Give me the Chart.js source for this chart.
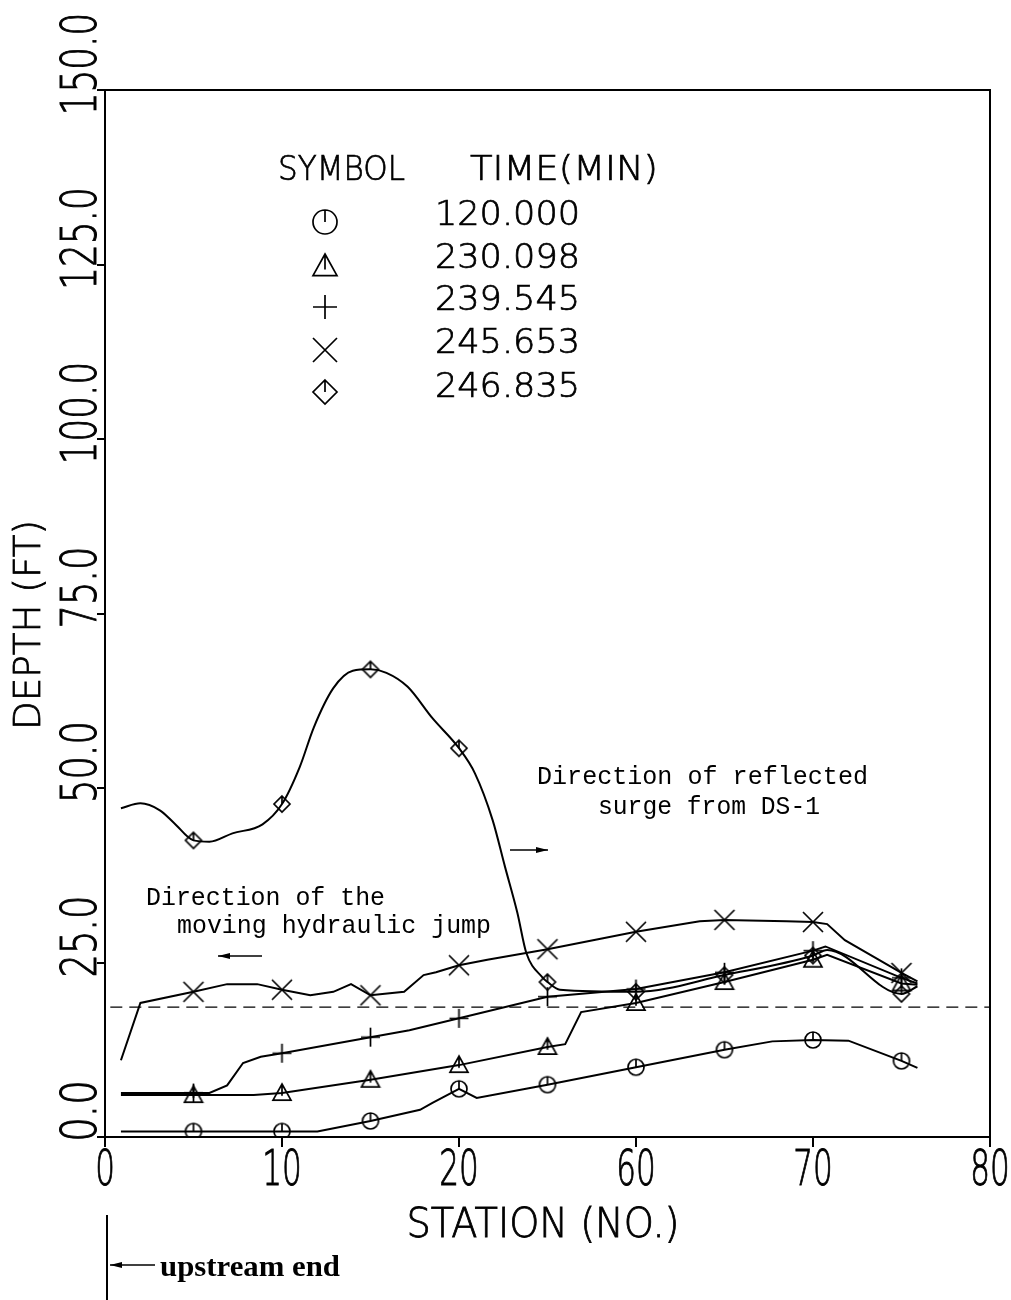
<!DOCTYPE html>
<html>
<head>
<meta charset="utf-8">
<script src="https://cdn.jsdelivr.net/npm/chart.js@4.4.1/dist/chart.umd.min.js"></script>
<style>
  html, body { margin: 0; padding: 0; background: #fff; }
  #wrap { width: 1011px; height: 1300px; }
</style>
</head>
<body>
<div id="wrap"><canvas id="chartDepth" width="1011" height="1300"></canvas></div>
<script>
// labels as printed on the plot sheet
const xTickLabels = ['0', '10', '20', '60', '70', '80'];
const yTickLabels = ['0.0', '25.0', '50.0', '75.0', '100.0', '125.0', '150.0'];
const seriesTimes = ['120.000', '230.098', '239.545', '245.653', '246.835'];
const seriesSymbols = ['circle', 'triangle', 'plus', 'cross', 'diamond'];
const markerStations = [5, 10, 15, 20, 25, 30, 35, 40, 45];
const refDepth = 18.6;
const refFrom = 0.3, refTo = 50;

// depth profiles (station, depth ft)
const t120X = [0.9, 5, 10, 12.0, 15, 17.8, 18.5, 20, 21, 25, 30, 35, 37.7, 40, 42, 45, 45.9];
const t120Y = [0.8, 0.8, 0.8, 0.8, 2.3, 3.9, 4.9, 6.9, 5.6, 7.5, 10.0, 12.5, 13.7, 13.9, 13.8, 10.9, 9.9];

const t230X = [0.9, 5, 8.4, 10, 15, 20, 25, 26.0, 26.9, 30, 35, 40, 40.8, 45, 45.9];
const t230Y = [6.0, 6.0, 6.0, 6.3, 8.2, 10.3, 12.9, 13.3, 17.9, 19.2, 22.2, 25.4, 26.1, 22.0, 21.8];

const t239X = [0.9, 5, 5.9, 6.9, 7.8, 8.8, 10, 15, 17.2, 20, 25, 30, 35, 40, 40.7, 45, 45.9];
const t239Y = [6.3, 6.3, 6.3, 7.4, 10.6, 11.5, 12.0, 14.3, 15.3, 17.0, 20.1, 21.2, 23.6, 26.7, 27.3, 22.8, 22.0];

const t245X = [0.9, 2.0, 5, 6.9, 8.6, 10, 11.6, 12.9, 13.9, 15, 16.9, 18.0, 18.7, 20, 21.6, 25, 30, 33.6, 35, 38.5, 40, 40.8, 41.8, 45, 45.9];
const t245Y = [11.0, 19.2, 20.8, 21.9, 21.9, 21.1, 20.3, 20.8, 21.9, 20.3, 20.8, 23.2, 23.6, 24.6, 25.4, 26.9, 29.4, 30.9, 31.1, 30.9, 30.8, 30.5, 28.2, 23.5, 22.3];

const t246X = [0.9, 2.0, 3.1, 3.9, 5, 5.9, 7.2, 8.9, 10, 11.0, 11.8, 12.9, 14.0, 15, 15.9, 17.1, 18.5, 20, 20.9, 21.9, 22.6, 23.3, 23.8, 24.7, 25, 25.7, 30, 35, 40, 40.8, 45, 45.9];
const t246Y = [47.1, 47.8, 46.8, 45.0, 42.5, 42.3, 43.5, 44.8, 47.7, 53.0, 58.7, 64.3, 66.8, 67.0, 66.5, 64.5, 60.0, 55.7, 52.1, 45.4, 38.7, 32.1, 26.4, 22.9, 22.2, 21.1, 20.8, 23.2, 26.0, 26.8, 20.5, 21.6];

const profilesX = [t120X, t230X, t239X, t245X, t246X];
const profilesY = [t120Y, t230Y, t239Y, t245Y, t246Y];

const PLOT_FONT = '"DejaVu Sans", sans-serif';
const TYPE_FONT = '"Liberation Mono", "Courier New", monospace';

function drawSymbol(g, type, cx, cy, r) {
    g.save();
    g.strokeStyle = '#000';
    g.lineWidth = 1.7;
    g.beginPath();
    if (type === 'circle') {
        g.arc(cx, cy, r, 0, Math.PI * 2);
        g.moveTo(cx, cy - r); g.lineTo(cx, cy);
    } else if (type === 'triangle') {
        g.moveTo(cx, cy - r); g.lineTo(cx + r, cy + 0.8 * r); g.lineTo(cx - r, cy + 0.8 * r); g.closePath();
        g.moveTo(cx, cy - r); g.lineTo(cx, cy + 0.3 * r);
    } else if (type === 'plus') {
        g.moveTo(cx - r, cy); g.lineTo(cx + r, cy);
        g.moveTo(cx, cy - r); g.lineTo(cx, cy + r);
    } else if (type === 'cross') {
        g.moveTo(cx - r, cy - r); g.lineTo(cx + r, cy + r);
        g.moveTo(cx - r, cy + r); g.lineTo(cx + r, cy - r);
    } else if (type === 'diamond') {
        g.moveTo(cx, cy - r); g.lineTo(cx + r, cy); g.lineTo(cx, cy + r); g.lineTo(cx - r, cy); g.closePath();
        g.moveTo(cx, cy - r); g.lineTo(cx, cy);
    }
    g.stroke();
    g.restore();
}

function makeMarker(type, r) {
    const c = document.createElement('canvas');
    const s = Math.ceil(r * 2 + 4);
    c.width = s; c.height = s;
    drawSymbol(c.getContext('2d'), type, s / 2, s / 2, r);
    return c;
}

const markerSize = { circle: 8, triangle: 9, plus: 9.5, cross: 10, diamond: 8 };

// plotter-style text: thin face, a light stroke thickens it a little
function plotText(ctx, s, x, y, o) {
    ctx.save();
    ctx.translate(x, y);
    if (o.rot) ctx.rotate(o.rot);
    ctx.font = o.font;
    ctx.fillStyle = '#000';
    ctx.strokeStyle = '#000';
    ctx.textAlign = o.align || 'left';
    ctx.textBaseline = 'alphabetic';
    if (o.width) {
        ctx.scale(o.width / ctx.measureText(s).width, 1);
    } else if (o.sx) {
        ctx.scale(o.sx, 1);
    }
    ctx.fillText(s, 0, 0);
    if (o.stroke) {
        ctx.lineWidth = o.stroke;
        ctx.strokeText(s, 0, 0);
    }
    ctx.restore();
}

function arrow(ctx, x1, x2, y) {
    const dir = x2 > x1 ? 1 : -1;
    ctx.save();
    ctx.strokeStyle = '#000';
    ctx.fillStyle = '#000';
    ctx.lineWidth = 1.5;
    ctx.beginPath(); ctx.moveTo(x1, y); ctx.lineTo(x2, y); ctx.stroke();
    ctx.beginPath();
    ctx.moveTo(x2, y); ctx.lineTo(x2 - dir * 12, y - 3); ctx.lineTo(x2 - dir * 12, y + 3); ctx.closePath();
    ctx.fill();
    ctx.restore();
}

const sheetText = {
    id: 'sheetText',
    afterDraw(chart) {
        const ctx = chart.ctx;
        const a = chart.chartArea;
        const xs = chart.scales.x, ys = chart.scales.y;

        // frame
        ctx.save();
        ctx.strokeStyle = '#000';
        ctx.lineWidth = 2;
        ctx.strokeRect(a.left, a.top, a.right - a.left, a.bottom - a.top);
        ctx.restore();

        // tick labels
        xTickLabels.forEach((lab, i) => {
            plotText(ctx, lab, xs.getPixelForValue(i * 10), 1185, { font: '200 50px ' + PLOT_FONT, align: 'center', sx: 0.62, stroke: 1 });
        });
        yTickLabels.forEach((lab, i) => {
            plotText(ctx, lab, 96, ys.getPixelForValue(i * 25) - 26, { font: '200 50px ' + PLOT_FONT, align: 'center', width: lab.length * 20.5, rot: -Math.PI / 2, stroke: 1 });
        });

        // axis titles
        plotText(ctx, 'DEPTH (FT)', 40, 625, { font: '200 38px ' + PLOT_FONT, align: 'center', width: 210, rot: -Math.PI / 2, stroke: 0.8 });
        plotText(ctx, 'STATION (NO.)', 543, 1237, { font: '200 40px ' + PLOT_FONT, align: 'center', width: 273, stroke: 0.8 });

        // legend block
        plotText(ctx, 'SYMBOL', 278, 180, { font: '200 33px ' + PLOT_FONT, width: 127, stroke: 0.7 });
        plotText(ctx, 'TIME(MIN)', 470, 180, { font: '200 33px ' + PLOT_FONT, width: 188, stroke: 0.7 });
        const rowBase = [225, 268, 310, 353, 397];
        const symY = [222, 266, 307, 350, 392];
        seriesTimes.forEach((t, i) => {
            plotText(ctx, t, 435, rowBase[i], { font: '200 33px ' + PLOT_FONT, width: 145, stroke: 0.7 });
            drawSymbol(ctx, seriesSymbols[i], 325, symY[i], 12);
        });

        // notes
        plotText(ctx, 'Direction of reflected', 537, 784, { font: '25px ' + TYPE_FONT, width: 331 });
        plotText(ctx, 'surge from DS-1', 598, 814, { font: '25px ' + TYPE_FONT, width: 222 });
        arrow(ctx, 510, 548, 850);
        plotText(ctx, 'Direction of the', 146, 905, { font: '25px ' + TYPE_FONT, width: 239 });
        plotText(ctx, 'moving hydraulic jump', 177, 933, { font: '25px ' + TYPE_FONT, width: 314 });
        arrow(ctx, 262, 218, 956);

        // upstream end marker
        ctx.save();
        ctx.strokeStyle = '#000';
        ctx.lineWidth = 2;
        ctx.beginPath(); ctx.moveTo(107, 1215); ctx.lineTo(107, 1300); ctx.stroke();
        ctx.restore();
        arrow(ctx, 155, 110, 1265);
        plotText(ctx, 'upstream end', 160, 1276, { font: 'bold 30px "Liberation Serif", serif', width: 180 });
    }
};

const datasets = profilesX.map((xs, i) => ({
    label: seriesTimes[i],
    data: xs.map((x, j) => ({ x: x, y: profilesY[i][j] })),
    borderColor: '#000',
    borderWidth: 2,
    fill: false,
    tension: 0,
    cubicInterpolationMode: seriesSymbols[i] === 'diamond' ? 'monotone' : 'default',
    pointStyle: makeMarker(seriesSymbols[i], markerSize[seriesSymbols[i]]),
    pointRadius: ctx => (ctx.raw && markerStations.includes(ctx.raw.x)) ? 6 : 0,
    pointHoverRadius: 0
}));

datasets.push({
    label: 'ref',
    data: [{ x: refFrom, y: refDepth }, { x: refTo, y: refDepth }],
    borderColor: '#000',
    borderWidth: 1.3,
    borderDash: [12, 7],
    pointRadius: 0,
    fill: false
});

new Chart(document.getElementById('chartDepth').getContext('2d'), {
    type: 'line',
    data: { datasets: datasets },
    options: {
        responsive: false,
        animation: false,
        events: [],
        layout: { padding: { top: 90, right: 21, left: 0, bottom: 0 } },
        plugins: { legend: { display: false }, tooltip: { enabled: false } },
        scales: {
            x: {
                type: 'linear', min: 0, max: 50,
                ticks: { stepSize: 10, display: false },
                grid: { drawOnChartArea: false, drawTicks: true, tickLength: 10, color: '#000', lineWidth: 2 },
                border: { color: '#000', width: 2 },
                afterFit: s => { s.height = 163; }
            },
            y: {
                min: 0, max: 150,
                ticks: { stepSize: 25, display: false },
                grid: { drawOnChartArea: false, drawTicks: true, tickLength: 8, color: '#000', lineWidth: 2 },
                border: { color: '#000', width: 2 },
                afterFit: s => { s.width = 105; }
            }
        }
    },
    plugins: [sheetText]
});
</script>
</body>
</html>
